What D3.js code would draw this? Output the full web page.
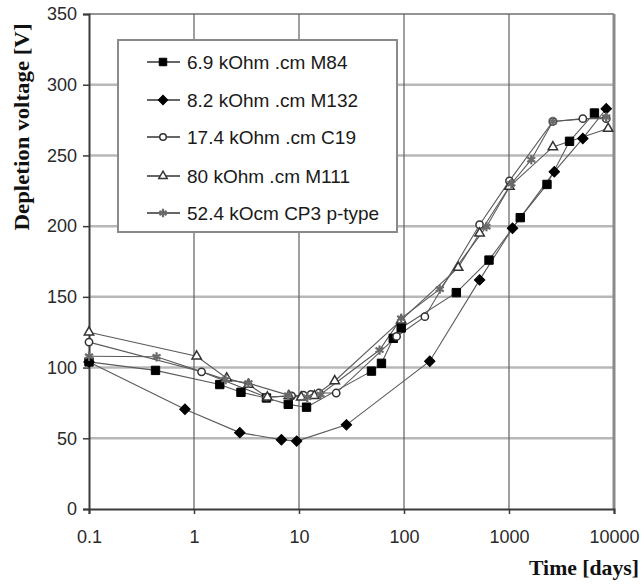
<!DOCTYPE html>
<html>
<head>
<meta charset="utf-8">
<script src="https://cdn.jsdelivr.net/npm/d3@7"></script>
<style>
  html, body { margin: 0; padding: 0; background: #fff; }
  svg { display: block; }
</style>
</head>
<body>
<svg id="chart" width="644" height="585"></svg>
<script>
// Depletion voltage versus annealing time for five detector samples.
const xTicks = [0.1, 1, 10, 100, 1000, 10000];
const yTicks = [0, 50, 100, 150, 200, 250, 300, 350];

const seriesNames = [
  "6.9 kOhm .cm M84",
  "8.2 kOhm .cm M132",
  "17.4 kOhm .cm C19",
  "80 kOhm .cm M111",
  "52.4 kOcm CP3 p-type"
];

// [time in days, depletion voltage in V]
const m84 = [[0.1,104],[0.43,98],[1.76,88],[2.8,82.5],[4.9,78.5],[7.9,74],[11.8,72],
  [49,97.5],[61,103],[79,120.7],[94,128],[315,153],[645,176],[1280,206],[2300,229.5],
  [3772,260],[6512,280]];
const m132 = [[0.1,104],[0.82,70.5],[2.73,54],[6.8,49],[9.5,48],[28.3,59.5],[176,104.5],
  [525,162],[1080,198.5],[2700,238.5],[5050,262],[8433,283]];
const c19 = [[0.1,118],[1.18,97],[4.9,79],[8.5,80],[11,80.5],[13,81],[15.5,82],[22.6,82],
  [85,122],[158,136],[525,201],[1010,232],[2618,274],[5047,276],[8433,276]];
const m111 = [[0.1,125],[1.06,108],[2.05,92.5],[3.3,88],[5,79],[8,80],[10.5,79],[14,80],
  [21.9,90.5],[94,133.5],[328,170.7],[525,195],[1010,228],[2618,256],[8800,269]];
const cp3 = [[0.1,108],[0.44,107.6],[2.0,91.5],[3.3,89],[7.9,80.5],[12,79],[16,81],
  [58.5,112.4],[94,134.8],[219,155.4],[610,199.6],[1052,230],[1629,247],[2618,274],[8433,277]];

const seriesData = [m84, m132, c19, m111, cp3];

const svg = d3.select("#chart");
const x = d3.scaleLog().domain([0.1, 10000]).range([89, 614]);
const y = d3.scaleLinear().domain([0, 350]).range([509, 14]);

// horizontal grid
svg.append("g").selectAll("line").data(yTicks.slice(1, -1)).join("line")
  .attr("x1", x(0.1)).attr("x2", x(10000))
  .attr("y1", d => y(d)).attr("y2", d => y(d))
  .attr("stroke", "#b8b8b8").attr("stroke-width", 2.5);
// top border
svg.append("line").attr("x1", x(0.1)).attr("x2", x(10000))
  .attr("y1", y(350)).attr("y2", y(350)).attr("stroke", "#707070").attr("stroke-width", 1.5);
// vertical grid
svg.append("g").selectAll("line").data(xTicks.slice(1, -1)).join("line")
  .attr("x1", d => x(d)).attr("x2", d => x(d))
  .attr("y1", y(0)).attr("y2", y(350))
  .attr("stroke", "#606060").attr("stroke-width", 1.2);
// right border
svg.append("line").attr("x1", x(10000)).attr("x2", x(10000))
  .attr("y1", y(0)).attr("y2", y(350)).attr("stroke", "#8a8a8a").attr("stroke-width", 3);

// axes
const yAxis = svg.append("g").attr("transform", `translate(${x(0.1)},0)`)
  .call(d3.axisLeft(y).tickValues(yTicks).tickSize(6).tickPadding(6).tickFormat(d3.format("d")));
const xAxis = svg.append("g").attr("transform", `translate(0,${y(0)})`)
  .call(d3.axisBottom(x).tickValues(xTicks).tickSize(5).tickPadding(16).tickFormat(d => String(d)));
[yAxis, xAxis].forEach(g => {
  g.select(".domain").attr("stroke", "#3a3a3a").attr("stroke-width", 2);
  g.selectAll(".tick line").attr("stroke", "#3a3a3a").attr("stroke-width", 1.5);
  g.selectAll(".tick text").attr("font-family", "Arial, 'Liberation Sans', sans-serif")
    .attr("font-size", 18).attr("fill", "#2a2a2a");
});

// axis titles
svg.append("text")
  .attr("transform", "translate(29,127) rotate(-90)")
  .attr("text-anchor", "middle")
  .attr("font-family", "'Times New Roman', 'Liberation Serif', serif")
  .attr("font-weight", "bold").attr("font-size", 20).attr("fill", "#111")
  .attr("textLength", 207).attr("lengthAdjust", "spacingAndGlyphs")
  .text("Depletion voltage  [V]");
svg.append("text")
  .attr("x", 639).attr("y", 575).attr("text-anchor", "end")
  .attr("font-family", "'Times New Roman', 'Liberation Serif', serif")
  .attr("font-weight", "bold").attr("font-size", 21).attr("fill", "#111")
  .attr("textLength", 110).attr("lengthAdjust", "spacingAndGlyphs")
  .text("Time [days]");

// marker styles per series (the diamond is a square turned by 45 degrees)
const markers = [
  { type: d3.symbolSquare,   size: 70, rot: 0,  fill: "#000", stroke: "#000", sw: 1 },
  { type: d3.symbolSquare,   size: 55, rot: 45, fill: "#000", stroke: "#000", sw: 1 },
  { type: d3.symbolCircle,   size: 42, rot: 0,  fill: "#fff", stroke: "#333", sw: 1.5 },
  { type: d3.symbolTriangle, size: 38, rot: 0,  fill: "#fff", stroke: "#333", sw: 1.5 },
  { type: d3.symbolAsterisk, size: 60, rot: 0,  fill: "none", stroke: "#6a6a6a", sw: 2.2 }
];

const line = d3.line().x(d => x(d[0])).y(d => y(d[1]));

seriesData.forEach(data => {
  svg.append("path").datum(data)
    .attr("d", line).attr("fill", "none")
    .attr("stroke", "#5a5a5a").attr("stroke-width", 1.1);
});
seriesData.forEach((data, i) => {
  const m = markers[i];
  svg.append("g").selectAll("path").data(data).join("path")
    .attr("transform", d => `translate(${x(d[0])},${y(d[1])}) rotate(${m.rot})`)
    .attr("d", d3.symbol().type(m.type).size(m.size))
    .attr("fill", m.fill).attr("stroke", m.stroke).attr("stroke-width", m.sw);
});

// legend
const legend = svg.append("g");
legend.append("rect").attr("x", 118).attr("y", 40).attr("width", 279).attr("height", 192)
  .attr("fill", "#fff").attr("stroke", "#8a8a8a").attr("stroke-width", 2);
const rowY = [62, 100, 137, 176, 213];
seriesNames.forEach((name, i) => {
  const m = markers[i];
  const g = legend.append("g").attr("transform", `translate(0,${rowY[i]})`);
  g.append("line").attr("x1", 147).attr("x2", 180).attr("y1", 0).attr("y2", 0)
    .attr("stroke", "#333").attr("stroke-width", 1.3);
  g.append("path").attr("transform", `translate(163,0) rotate(${m.rot})`)
    .attr("d", d3.symbol().type(m.type).size(m.size * 0.8))
    .attr("fill", m.fill).attr("stroke", m.stroke).attr("stroke-width", m.sw);
  g.append("text").attr("x", 187).attr("y", 6.5)
    .attr("font-family", "Arial, 'Liberation Sans', sans-serif")
    .attr("font-size", 19).attr("fill", "#1a1a1a").text(name);
});
</script>
</body>
</html>
